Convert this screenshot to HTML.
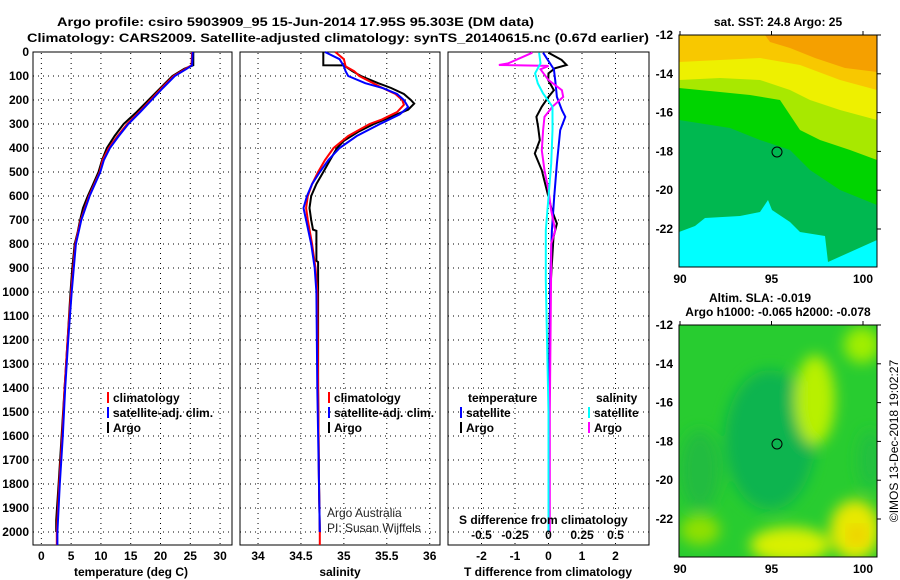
<!DOCTYPE html>
<html><head><meta charset="utf-8"><style>
body{margin:0;background:#fff}
svg{display:block;font-family:"Liberation Sans",sans-serif}
.b{font-weight:bold;font-size:12px}
</style></head><body>
<svg id="s" width="900" height="580" viewBox="0 0 900 580">
<defs><filter id="bl"><feGaussianBlur stdDeviation="7"/></filter>
<clipPath id="m2c"><rect x="679" y="325" width="198" height="232"/></clipPath></defs>
<text class="b" x="57" y="26" font-size="14" textLength="477" lengthAdjust="spacingAndGlyphs">Argo profile: csiro 5903909_95 15-Jun-2014 17.95S 95.303E (DM data)</text>
<text class="b" x="27" y="42" font-size="14" textLength="622" lengthAdjust="spacingAndGlyphs">Climatology: CARS2009. Satellite-adjusted climatology: synTS_20140615.nc (0.67d earlier)</text>
<g id="plots"></g>
<g>
<rect x="679" y="35" width="198" height="232" fill="#00b850"/>
<polygon points="679,35 877,35 877,205 840,190 810,170 790,150 760,140 730,128 679,120" fill="#00d400"/>
<polygon points="679,35 877,35 877,160 850,150 820,140 800,130 780,100 750,95 720,92 679,88" fill="#a8e800"/>
<polygon points="679,35 877,35 877,120 840,110 810,100 790,90 760,80 720,78 679,80" fill="#eef000"/>
<polygon points="679,35 877,35 877,90 840,80 800,65 760,58 720,60 679,62" fill="#f8c800"/>
<polygon points="765,35 877,35 877,72 845,68 815,58 790,48 770,42" fill="#f5a000"/>
<polygon points="679,232 695,226 705,218 740,216 760,212 768,200 772,210 790,222 800,232 825,236 828,262 877,240 877,267 679,267" fill="#00ffff"/>
<rect x="679" y="35" width="198" height="232" fill="none" stroke="#000"/>
<circle cx="777" cy="152" r="5" fill="none" stroke="#000"/>
</g>
<g>
<g clip-path="url(#m2c)">
<rect x="679" y="325" width="198" height="232" fill="#28cc30"/>
<g filter="url(#bl)">
<ellipse cx="770" cy="440" rx="45" ry="70" fill="#10b450"/>
<ellipse cx="700" cy="470" rx="20" ry="40" fill="#20bc40"/>
<ellipse cx="815" cy="400" rx="20" ry="45" fill="#b8f000"/>
<ellipse cx="790" cy="545" rx="40" ry="18" fill="#d8f000"/>
<ellipse cx="855" cy="530" rx="25" ry="30" fill="#e8e800"/>
<ellipse cx="862" cy="345" rx="18" ry="18" fill="#a0ee00"/>
<ellipse cx="700" cy="530" rx="20" ry="15" fill="#90e000"/>
<ellipse cx="870" cy="460" rx="12" ry="30" fill="#20c040"/>
</g>
<circle cx="857" cy="535" r="10" fill="#f0d000" filter="url(#bl)"/>
</g>
<rect x="679" y="325" width="198" height="232" fill="none" stroke="#000"/>
<circle cx="777" cy="444" r="5" fill="none" stroke="#000"/>
</g>
<text class="b" x="778" y="26" text-anchor="middle">sat. SST: 24.8 Argo: 25</text>
<text class="b" x="760" y="302" text-anchor="middle">Altim. SLA: -0.019</text>
<text class="b" x="778" y="316" text-anchor="middle">Argo h1000: -0.065 h2000: -0.078</text>
<text x="894" y="441" font-size="12" text-anchor="middle" transform="rotate(-90 894 441)" dy="4">©IMOS 13-Dec-2018 19:02:27</text>
<text x="327" y="517" font-size="12" fill="#222">Argo Australia</text>
<text x="327" y="532" font-size="12" fill="#222">PI: Susan Wijffels</text>
<text class="b" x="459" y="524">S difference from climatology</text>
</svg>
<script>
const tArgoD=[0,55,60,70,100,150,200,250,300,350,400,450,500,550,600,650,700,750,800,900,1000,1200,1400,1600,1800,1950,2000];
const tArgo=[25.5,25.5,25.0,24.0,22.0,20.0,18.0,16.0,13.8,12.3,11.0,10.2,9.6,8.7,7.8,7.0,6.5,6.1,5.6,5.2,4.9,4.4,3.9,3.4,2.9,2.5,2.5];
const tClimD=[0,55,70,100,150,200,250,300,350,400,450,500,600,700,800,1000,1200,1400,1600,1800,2000,2054];
const tClim=[25.3,25.2,24.2,22.2,20.2,18.3,16.4,14.4,12.8,11.3,10.3,9.8,8.0,6.6,5.7,5.0,4.4,3.9,3.5,3.0,2.6,2.6];
const tSat=[25.4,25.3,24.4,22.4,20.4,18.5,16.6,14.6,13.0,11.5,10.5,9.9,8.1,6.7,5.8,5.1,4.5,4.0,3.6,3.1,2.7,2.7];
const sArgoD=[0,55,56,80,100,130,150,175,200,215,240,270,300,330,370,400,450,500,550,600,650,700,740,745,800,870,875,1000,1400,1800,2000];
const sArgo=[34.76,34.76,35.0,35.1,35.2,35.4,35.55,35.7,35.78,35.82,35.75,35.55,35.35,35.18,35.0,34.92,34.84,34.76,34.68,34.62,34.6,34.62,34.64,34.68,34.68,34.68,34.7,34.7,34.7,34.71,34.72];
const sClimD=[0,30,60,80,100,150,175,200,220,250,280,300,350,400,450,500,550,600,650,700,800,900,1000,1400,1800,2000,2054];
const sClim=[34.9,35.0,35.02,35.12,35.18,35.45,35.6,35.68,35.7,35.62,35.45,35.3,35.05,34.88,34.78,34.7,34.63,34.58,34.56,34.58,34.63,34.67,34.69,34.70,34.71,34.72,34.72];
const sSatD=[0,30,60,80,100,130,150,175,200,230,260,300,350,400,450,500,550,600,650,700,800,900,1000,1400,1800,2000];
const sSat=[34.78,34.95,35.0,35.02,35.05,35.25,35.45,35.62,35.7,35.75,35.65,35.42,35.15,34.95,34.82,34.72,34.63,34.57,34.53,34.56,34.62,34.66,34.68,34.69,34.71,34.72];
const dTArgoD=[3,33,54,68,89,117,159,187,228,270,312,367,423,493,548,604,660,715,771,881,1000,1500,2000];
const dTArgo=[0,0.39,0.54,0.19,0,-0.01,0.16,0,-0.2,-0.36,-0.31,-0.26,-0.41,-0.2,-0.1,0,0.1,0.25,0.15,0.1,0.05,0,0];
const dTSatD=[3,72,117,187,242,270,326,465,604,743,952,1500,2000];
const dTSat=[-0.16,0.16,0.2,0.25,0.4,0.5,0.35,0.25,0.17,0.1,0.05,0.02,0];
const dSArgoD=[3,10,47,54,58,72,117,159,187,228,270,326,410,493,576,660,743,799,882,1500,2000];
const dSArgo=[-0.12,-0.15,-0.3,-0.37,0,-0.06,0,0.1,0.11,0.03,-0.03,-0.04,-0.05,-0.03,0,0.02,0.05,0.02,0.02,0.01,0.01];
const dSSatD=[3,47,89,131,173,228,326,465,604,743,952,1500,2000];
const dSSat=[-0.07,-0.06,-0.1,-0.08,-0.04,0.03,0.03,0.02,0,-0.02,-0.02,0,0];
const depthTicks=[0,100,200,300,400,500,600,700,800,900,1000,1100,1200,1300,1400,1500,1600,1700,1800,1900,2000];
const tTicks=[0,5,10,15,20,25,30];
const sTicks=[34,34.5,35,35.5,36];
const dTTicks=[-2,-1,0,1,2];
const dSTicks=[-0.5,-0.25,0,0.25,0.5];
const latTicks=[-12,-14,-16,-18,-20,-22];
const lonTicks=[90,95,100];
const NS='http://www.w3.org/2000/svg';
const g=document.getElementById('plots');
const yD=d=>52+d*0.24;
const lin=(d0,d1,p0,p1)=>v=>p0+(v-d0)/(d1-d0)*(p1-p0);
const xT=lin(-1.4,32,33,232), xS=lin(33.79,36.12,240,440), xDT=lin(-3,3,448,649), xDS=lin(-0.75,0.75,448,649);
function mk(tag,attrs,txt){const e=document.createElementNS(NS,tag);for(const k in attrs)e.setAttribute(k,attrs[k]);if(txt!==undefined)e.textContent=txt;g.appendChild(e);return e;}
function panel(x0,x1,ticks,xs,name,showY){
  const r=mk('rect',{x:x0,y:52,width:x1-x0,height:493,fill:'none',stroke:'#000'});
  
  
  depthTicks.forEach(d=>{if(d>0){const l=mk('line',{x1:x0,x2:x1,y1:yD(d),y2:yD(d),stroke:'#000','stroke-dasharray':'1 4'});
    
    }
    if(showY){const t=mk('text',{x:29,y:yD(d)+4,'text-anchor':'end','class':'b','font-size':'13'},String(d));
    
    }});
  ticks.forEach(v=>{const l=mk('line',{x1:xs(v),x2:xs(v),y1:53,y2:545,stroke:'#000','stroke-dasharray':'1 4'});
    
    
    const t=mk('text',{x:xs(v),y:560,'text-anchor':'middle','class':'b','font-size':'13'},String(v));
    
    });
}
function line(ds,vs,xs,col,name){
  const p=mk('polyline',{points:ds.map((d,i)=>xs(vs[i]).toFixed(1)+','+yD(d).toFixed(1)).join(' '),fill:'none',stroke:col,'stroke-width':2});
  
  
}
panel(33,232,tTicks,xT,'temperature-panel',true);
panel(240,440,sTicks,xS,'salinity-panel',false);
panel(448,649,dTTicks,xDT,'difference-panel',false);
line(tArgoD,tArgo,xT,'#000','temperature-argo-line');
line(tClimD,tClim,xT,'#f00','temperature-climatology-line');
line(tClimD,tSat,xT,'#00f','temperature-satellite-line');
line(sArgoD,sArgo,xS,'#000','salinity-argo-line');
line(sClimD,sClim,xS,'#f00','salinity-climatology-line');
line(sSatD,sSat,xS,'#00f','salinity-satellite-line');
line(dTArgoD,dTArgo,xDT,'#000','t-diff-argo-line');
line(dTSatD,dTSat,xDT,'#00f','t-diff-satellite-line');
line(dSArgoD,dSArgo,xDS,'#f0f','s-diff-argo-line');
line(dSSatD,dSSat,xDS,'#0ff','s-diff-satellite-line');
dSTicks.forEach(v=>{const t=mk('text',{x:xDS(v),y:539,'text-anchor':'middle','class':'b'},String(v));
  
  });
[['temperature (deg C)',131],['salinity',340],['T difference from climatology',548]].forEach(a=>{
  const t=mk('text',{x:a[1],y:576,'text-anchor':'middle','class':'b','font-size':'12.5'},a[0]);
  
  });
function leg(x,y,col,label){
  const l=mk('line',{x1:x,x2:x,y1:y-10,y2:y+1,stroke:col,'stroke-width':2});
  
  
  const t=mk('text',{x:x+5,y:y,'class':'b'},label);
  
  
}
[[108],[329]].forEach(a=>{leg(a[0],402,'#f00','climatology');leg(a[0],417,'#00f','satellite-adj. clim.');leg(a[0],432,'#000','Argo');});
const th=mk('text',{x:468,y:402,'class':'b'},'temperature');


const sh=mk('text',{x:596,y:402,'class':'b'},'salinity');


leg(461,417,'#00f','satellite');leg(461,432,'#000','Argo');
leg(589,417,'#0ff','satellite');leg(589,432,'#f0f','Argo');
[35,325].forEach(top=>{
  latTicks.forEach(v=>{const y=top+(-12-v)*19.4;
    const t=mk('text',{x:673,y:y+4,'text-anchor':'end','class':'b','font-size':'13'},String(v));
    
    
    const k=mk('line',{x1:877,x2:881,y1:y,y2:y,stroke:'#000'});
    
    });
  lonTicks.forEach(v=>{const x=680+(v-90)*18.3;
    const t=mk('text',{x:x,y:top+248,'text-anchor':'middle','class':'b','font-size':'13'},String(v));
    
    
    const k=mk('line',{x1:x,x2:x,y1:top-4,y2:top,stroke:'#000'});
    
    });
});
</script>
</body></html>
